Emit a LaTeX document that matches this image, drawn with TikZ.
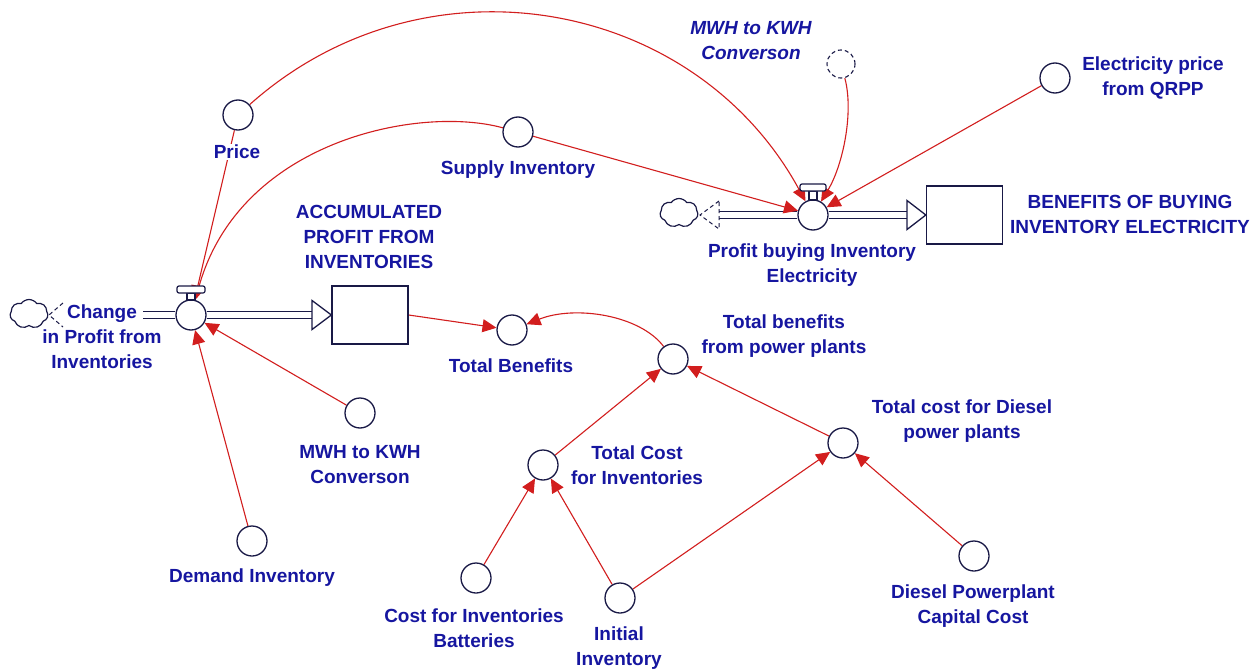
\documentclass[tikz,border=0pt]{standalone}
\usepackage{fontspec}
\setmainfont{Liberation Sans}
\usetikzlibrary{arrows.meta,shapes.symbols}
\definecolor{txtblue}{RGB}{22,22,160}
\definecolor{navyl}{RGB}{25,25,70}
\definecolor{linkred}{RGB}{210,30,30}
\pgfdeclarelayer{back}
\pgfdeclarelayer{bg}
\pgfsetlayers{back,bg,main}
\tikzset{
 aux/.style={circle, draw=navyl, fill=white, line width=1.3pt, minimum size=30pt, inner sep=0pt},
 ghost/.style={aux, line width=1.1pt, dash pattern=on 4pt off 3pt, minimum size=28pt},
 stockbox/.style={rectangle, draw=navyl, fill=white, line width=1.3pt, minimum width=76pt, minimum height=58pt, inner sep=0pt},
 lbl/.style={text=txtblue, font=\bfseries\fontsize{19pt}{25pt}\selectfont, align=center, inner sep=1pt},
 ilbl/.style={lbl, font=\bfseries\itshape\fontsize{19pt}{25pt}\selectfont},
 link/.style={draw=linkred, line width=1.1pt, -{Triangle[length=14pt,width=13pt]}},
 pipe/.style={draw=navyl, line width=1.3pt, double=white, double distance=6pt},
 flowhead/.style={draw=navyl, fill=white, line width=1.3pt, line join=miter},
 srctri/.style={draw=navyl, line width=1pt, dash pattern=on 4pt off 3pt},
 cloudshape/.style={cloud, cloud puffs=7, cloud puff arc=110, aspect=1.35, draw=navyl, line width=1.2pt, fill=white, inner sep=0pt, minimum width=38pt, minimum height=29pt},
 capbox/.style={draw=navyl, fill=white, line width=1.2pt, rounded corners=2pt},
}
\begin{document}
\begin{tikzpicture}[x=1pt,y=-1pt]
\useasboundingbox (0,0) rectangle (1256,669);
\begin{pgfonlayer}{back}
\fill[white] (0,0) rectangle (1256,669);
\end{pgfonlayer}

% auxiliaries, valves, stocks
\node[aux] (price) at (238,115) {};
\node[aux] (supply) at (518,132) {};
\node[ghost] (mwh2) at (841,64) {};
\node[aux] (elec) at (1055,78) {};
\node[aux] (v1) at (191,315) {};
\node[aux] (v2) at (813,215) {};
\node[stockbox] (s1) at (370,315) {};
\node[stockbox] (s2) at (964.5,215) {};
\node[cloudshape] (c1) at (29,314) {};
\node[cloudshape] (c2) at (679,213) {};
\node[aux] (tb) at (512,330) {};
\node[aux] (tbpp) at (673,359) {};
\node[aux] (tci) at (543,465) {};
\node[aux] (tcd) at (843,443) {};
\node[aux] (cib) at (476,578) {};
\node[aux] (init) at (620,598) {};
\node[aux] (dpcc) at (974,556) {};
\node[aux] (mwh1) at (360,413) {};
\node[aux] (dem) at (252,541) {};

\coordinate (src1) at (143,315);
\coordinate (src2) at (719,215);
\coordinate (h1) at (312,315);
\coordinate (h2) at (907,215);

\begin{pgfonlayer}{bg}
 % pipes
 \draw[pipe] (src1) -- (v1.west);
 \draw[pipe] (v1.east) -- (h1);
 \draw[pipe] (src2) -- (v2.west);
 \draw[pipe] (v2.east) -- (h2);
 % links
 \draw[link] (price) .. controls (424,-51) and (694,-3) .. (v2);
 \draw[link] (price) -- (v1);
 \draw[link] (supply) .. controls (420,105) and (240,140) .. (v1);
 \draw[link] (supply) -- (v2);
 \draw[link] (mwh2) .. controls (854,112) and (843,165) .. (v2);
 \draw[link] (elec) -- (v2);
 \draw[link] (mwh1) -- (v1);
 \draw[link] (dem) -- (v1);
 \draw[link] (s1.east) -- (tb);
 \draw[link] (tbpp) .. controls (640,315) and (575,305) .. (tb);
 \draw[link] (tci) -- (tbpp);
 \draw[link] (tcd) -- (tbpp);
 \draw[link] (cib) -- (tci);
 \draw[link] (init) -- (tci);
 \draw[link] (init) -- (tcd);
 \draw[link] (dpcc) -- (tcd);
\end{pgfonlayer}

% flow heads
\draw[flowhead] (312,300.5) -- (s1.west) -- (312,329.5) -- cycle;
\draw[flowhead] (907,200.5) -- (s2.west) -- (907,229.5) -- cycle;
% source markers
\draw[srctri] (63,303) -- (49,315) -- (63,327);
\draw[srctri] (719,201) -- (700,215) -- (719,229) -- cycle;
% valve handles
\draw[capbox, rounded corners=0pt] (187,293) rectangle (195,300);
\draw[capbox] (177,286) rectangle (205,293);
\draw[capbox, rounded corners=0pt] (809,191) rectangle (817,200);
\draw[capbox] (800,184) rectangle (826,191);

% labels
\node[lbl, fill=white] (lprice) at (237,152) {Price};
\node[lbl] (lsupply) at (518,170) {Supply Inventory};
\node[lbl] (ls1) at (369,237) {ACCUMULATED\\PROFIT FROM\\INVENTORIES};
\node[lbl] (lv1) at (102,337) {Change\\in Profit from\\Inventories};
\node[lbl] (lv2) at (812,265) {Profit buying Inventory\\Electricity};
\node[lbl] (ls2) at (1130,214) {BENEFITS OF BUYING\\INVENTORY ELECTRICITY};
\node[lbl] (lelec) at (1153,78) {Electricity price\\from QRPP};
\node[ilbl] (lmwh2) at (751,41) {MWH to KWH\\Converson};
\node[lbl] (ltb) at (511,366) {Total Benefits};
\node[lbl] (ltbpp) at (784,336) {Total benefits\\from power plants};
\node[lbl] (ltci) at (637,465) {Total Cost\\for Inventories};
\node[lbl] (ltcd) at (962,421) {Total cost for Diesel\\power plants};
\node[lbl] (ldpcc) at (973,606) {Diesel Powerplant\\Capital Cost};
\node[lbl] (lcib) at (474,628) {Cost for Inventories\\Batteries};
\node[lbl] (linit) at (619,648) {Initial\\Inventory};
\node[lbl] (lmwh1) at (360,465) {MWH to KWH\\Converson};
\node[lbl] (ldem) at (252,578) {Demand Inventory};
\end{tikzpicture}
\end{document}
